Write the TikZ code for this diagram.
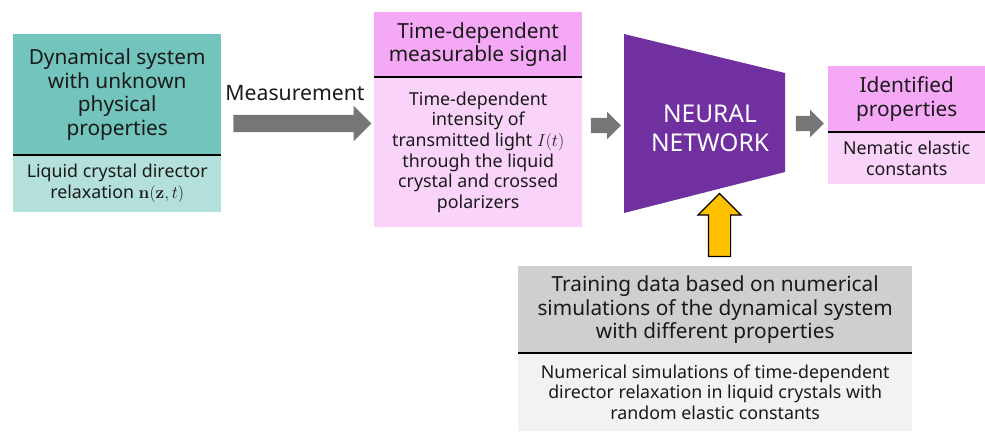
\documentclass[tikz,border=0pt]{standalone}
\usepackage[no-math]{fontspec}
\setmainfont{Noto Sans}
\usetikzlibrary{shapes.arrows}
\definecolor{tealH}{HTML}{72C4BC}
\definecolor{tealB}{HTML}{B3E0DB}
\definecolor{pinkH}{HTML}{F5A8F5}
\definecolor{pinkB}{HTML}{FAD3FA}
\definecolor{nnpurple}{HTML}{7030A0}
\definecolor{arrgray}{HTML}{767676}
\definecolor{grayH}{HTML}{D0CECE}
\definecolor{grayB}{HTML}{F2F2F2}
\definecolor{gold}{HTML}{FFC000}
\definecolor{txt}{HTML}{1A1A1A}
\begin{document}
\begin{tikzpicture}[x=1pt,y=-1pt,
  hdr/.style={anchor=north west, inner sep=0pt, align=center, text=txt, font=\fontsize{20.8}{23.5}\selectfont},
  bdy/.style={anchor=north west, inner sep=0pt, align=center, text=txt, font=\fontsize{17.8}{20.7}\selectfont},
  divider/.style={line width=2pt, black},
  blk/.style={single arrow, fill=arrgray, draw=none, inner xsep=0pt, shape border rotate=0}]
\useasboundingbox (0,0) rectangle (985,431);
% Box 1
\node[hdr, fill=tealH, minimum width=208pt, minimum height=121pt] (h1) at (13,34) {Dynamical system\\with unknown\\physical\\properties};
\node[bdy, fill=tealB, minimum width=208pt, minimum height=57pt] (b1) at (13,155) {Liquid crystal director\\relaxation $\mathbf{n}(\mathbf{z},t)$};
\draw[divider] (h1.south west) -- (h1.south east);
% Measurement
\node[text=txt, font=\fontsize{21.2}{23}\selectfont] (ml) at (295,93) {Measurement};
\node[blk, minimum height=138pt, minimum width=35pt, inner ysep=8.5pt, single arrow head extend=9pt] (a1) at (298,123.5) {};
% Box 2
\node[hdr, fill=pinkH, minimum width=208pt, minimum height=65pt] (h2) at (374,12) {Time-dependent\\measurable signal};
\node[bdy, fill=pinkB, minimum width=208pt, minimum height=150pt] (b2) at (374,77) {Time-dependent\\intensity of\\transmitted light $I(t)$\\through the liquid\\crystal and crossed\\polarizers};
\draw[divider] (h2.south west) -- (h2.south east);
% arrow to NN
\node[blk, minimum height=30pt, minimum width=27pt, inner ysep=7.5pt, single arrow head extend=6pt] (a2) at (602,125.5) {};
% Neural network
\fill[nnpurple] (624,34) -- (785,73) -- (785,172) -- (624,213) -- cycle;
\node[text=white, align=center, font=\fontsize{24.5}{29}\selectfont] (nn) at (710,128) {NEURAL\\NETWORK};
% arrow to box 3
\node[blk, minimum height=28pt, minimum width=27pt, inner ysep=7.5pt, single arrow head extend=6pt] (a3) at (806,123.5) {};
% Box 3
\node[hdr, fill=pinkH, minimum width=157pt, minimum height=66pt] (h3) at (828,66) {Identified\\properties};
\node[bdy, fill=pinkB, minimum width=157pt, minimum height=52pt] (b3) at (828,132) {Nematic elastic\\constants};
\draw[divider] (h3.south west) -- (h3.south east);
% Box 4
\node[hdr, fill=grayH, minimum width=394pt, minimum height=87pt] (h4) at (518,266) {Training data based on numerical\\simulations of the dynamical system\\with different properties};
\node[bdy, fill=grayB, minimum width=394pt, minimum height=78pt] (b4) at (518,353) {Numerical simulations of time-dependent\\director relaxation in liquid crystals with\\random elastic constants};
\draw[divider] (h4.south west) -- (h4.south east);
% yellow arrow
\node[single arrow, fill=gold, draw=black, line width=1.2pt, rotate=90, inner xsep=0pt, inner ysep=10.5pt, minimum height=63pt, minimum width=42pt, single arrow head extend=10.5pt] (ya) at (719.5,230.5) {};
\end{tikzpicture}
\end{document}
